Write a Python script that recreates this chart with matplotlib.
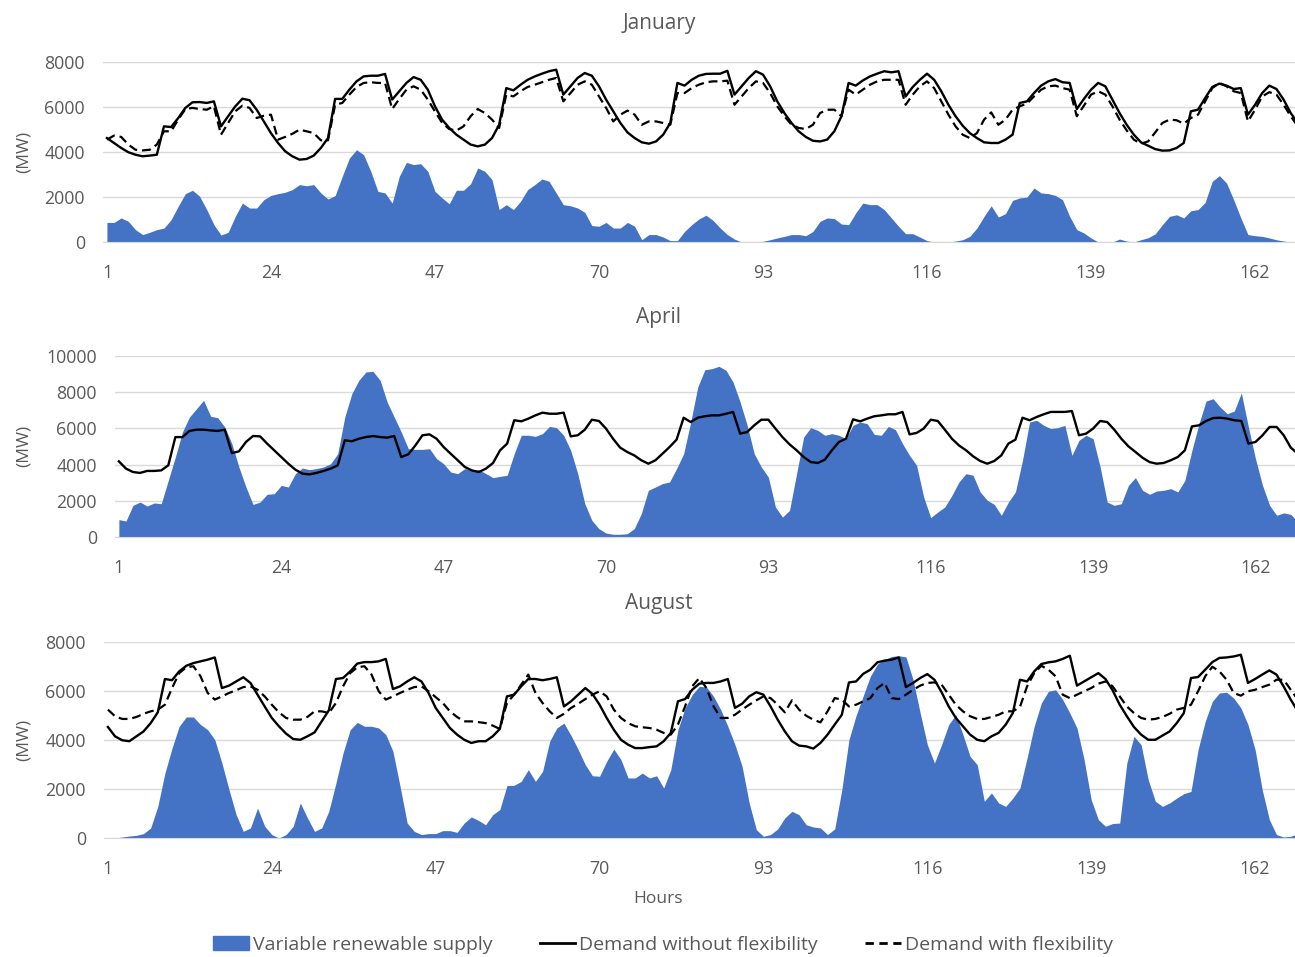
import matplotlib
matplotlib.use("Agg")
import matplotlib.pyplot as plt
import matplotlib.patches as mpatches
import matplotlib.lines as mlines
import numpy as np

plt.rcParams['font.family'] = ['Open Sans', 'DejaVu Sans']

hours = np.arange(1, 169)
tick_hours = [1, 24, 47, 70, 93, 116, 139, 162]

# January (MW)
jan_renew = [
    870, 870, 1070, 920, 550, 330, 430, 550, 620, 990,
    1590, 2150, 2300, 2030, 1440, 770, 310, 430, 1140, 1730,
    1510, 1510, 1880, 2070, 2150, 2210, 2330, 2550, 2500, 2550,
    2180, 1910, 2060, 2920, 3730, 4100, 3880, 3140, 2250, 2180,
    1730, 2920, 3540, 3440, 3480, 3140, 2250, 1960, 1700, 2300,
    2300, 2590, 3290, 3140, 2770, 1440, 1660, 1440, 1810, 2330,
    2550, 2800, 2700, 2180, 1660, 1610, 1510, 1320, 730, 700,
    870, 620, 620, 870, 700, 100, 330, 330, 220, 60,
    60, 470, 770, 1020, 1190, 960, 620, 330, 130, 0,
    0, 0, 30, 100, 180, 250, 330, 330, 280, 470,
    920, 1070, 1040, 800, 770, 1290, 1730, 1660, 1660, 1440,
    1070, 700, 370, 370, 220, 60, 0, 0, 0, 40,
    100, 250, 620, 1140, 1610, 1110, 1260, 1850, 1960, 1990,
    2400, 2180, 2150, 2070, 1880, 1140, 550, 400, 180, 0,
    0, 0, 130, 40, 0, 100, 190, 360, 770, 1140,
    1210, 1070, 1390, 1440, 1760, 2700, 2950, 2620, 1880, 1070,
    330, 280, 250, 180, 100, 40, 0, 0]
jan_no_flex = [
    4620, 4400, 4180, 3990, 3880, 3810, 3840, 3880, 5140, 5110,
    5510, 5960, 6210, 6220, 6180, 6250, 5140, 5590, 6030, 6370,
    6300, 5880, 5360, 4840, 4400, 4030, 3810, 3660, 3690, 3840,
    4180, 4620, 6360, 6360, 6770, 7140, 7360, 7390, 7390, 7470,
    6330, 6700, 7070, 7330, 7210, 6770, 6030, 5440, 5070, 4770,
    4550, 4330, 4250, 4330, 4620, 5210, 6840, 6740, 6990, 7210,
    7360, 7480, 7590, 7660, 6550, 6920, 7290, 7510, 7390, 6920,
    6330, 5810, 5290, 4870, 4620, 4430, 4370, 4470, 4770, 5290,
    7070, 6950, 7210, 7390, 7470, 7480, 7480, 7610, 6550, 6920,
    7290, 7590, 7440, 6920, 6250, 5730, 5290, 4920, 4670, 4500,
    4470, 4550, 4920, 5590, 7070, 6950, 7180, 7360, 7480, 7590,
    7540, 7590, 6470, 6890, 7210, 7480, 7210, 6700, 6100, 5590,
    5170, 4840, 4620, 4430, 4400, 4400, 4550, 4770, 6180, 6250,
    6620, 6950, 7140, 7240, 7100, 7070, 5910, 6360, 6770, 7070,
    6920, 6330, 5730, 5210, 4770, 4430, 4280, 4130, 4060, 4070,
    4180, 4400, 5810, 5880, 6400, 6890, 7040, 6950, 6800, 6840,
    5660, 6100, 6620, 6950, 6800, 6330, 5730, 5290]
jan_flex = [
    4550, 4730, 4670, 4330, 4100, 4070, 4100, 4330, 4920, 4920,
    5440, 5910, 5960, 5910, 5880, 6030, 4770, 5290, 5810, 6060,
    5960, 5510, 5610, 5660, 4550, 4670, 4810, 4990, 4920, 4840,
    4520, 4520, 6100, 6180, 6550, 6890, 7070, 7100, 7070, 7070,
    5910, 6360, 6770, 6920, 6770, 6330, 5800, 5300, 5020, 4950,
    5140, 5590, 5910, 5730, 5440, 5070, 6550, 6470, 6700, 6890,
    6990, 7100, 7210, 7290, 6250, 6620, 6990, 7140, 6990, 6470,
    5960, 5360, 5660, 5840, 5660, 5210, 5360, 5360, 5290, 5210,
    6620, 6620, 6840, 6990, 7100, 7140, 7140, 7170, 6100, 6470,
    6840, 7140, 7070, 6620, 6030, 5590, 5210, 5070, 5020, 5210,
    5730, 5880, 5880, 5590, 6770, 6550, 6770, 6990, 7140, 7210,
    7210, 7210, 6100, 6550, 6920, 7140, 6840, 6250, 5660, 5140,
    4770, 4620, 4840, 5440, 5760, 5210, 5440, 5880, 6030, 6150,
    6470, 6770, 6920, 6950, 6840, 6770, 5590, 6060, 6550, 6700,
    6550, 6030, 5440, 4960, 4550, 4370, 4470, 4870, 5290, 5440,
    5410, 5260, 5510, 5660, 6250, 6840, 7070, 6920, 6700, 6620,
    5360, 5880, 6470, 6660, 6550, 6100, 5590, 5140]

# April (MW)
apr_renew = [
    960, 880, 1750, 1930, 1710, 1880, 1840, 3130, 4420, 5800,
    6630, 7090, 7550, 6670, 6590, 6080, 5160, 3870, 2760, 1800,
    1930, 2360, 2390, 2850, 2760, 3500, 3810, 3720, 3780, 3870,
    4050, 4600, 6630, 7920, 8660, 9120, 9150, 8660, 7460, 6630,
    5800, 4880, 4840, 4840, 4880, 4330, 4050, 3590, 3500, 3780,
    3680, 3720, 3500, 3280, 3350, 3410, 4600, 5620, 5620, 5560,
    5710, 6110, 6040, 5620, 4790, 3500, 1840, 920, 460, 220,
    150, 150, 180, 460, 1290, 2580, 2760, 2950, 3040, 3780,
    4600, 6350, 8290, 9240, 9300, 9430, 9210, 8560, 7460, 6170,
    4600, 3870, 3310, 1660, 1100, 1470, 3500, 5520, 6040, 5890,
    5620, 5710, 5620, 5430, 6170, 6350, 6260, 5670, 5620, 6110,
    5930, 5160, 4510, 3960, 2210, 1070, 1380, 1660, 2300, 3040,
    3500, 3410, 2490, 2030, 1800, 1200, 1930, 2490, 4240, 6350,
    6450, 6170, 5990, 6040, 6170, 4510, 5340, 5620, 5430, 3870,
    1930, 1750, 1840, 2850, 3280, 2580, 2360, 2540, 2580, 2670,
    2490, 3130, 4790, 6260, 7510, 7640, 7180, 6810, 6960, 7960,
    6080, 4330, 2850, 1750, 1200, 1330, 1250, 830]
apr_no_flex = [
    4180, 3780, 3590, 3540, 3650, 3650, 3680, 3960, 5520, 5520,
    5860, 5930, 5930, 5890, 5860, 5930, 4640, 4730, 5250, 5580,
    5560, 5160, 4790, 4420, 4050, 3720, 3500, 3460, 3540, 3650,
    3780, 3960, 5340, 5290, 5430, 5520, 5580, 5520, 5490, 5580,
    4420, 4570, 5060, 5620, 5670, 5430, 4970, 4600, 4240, 3870,
    3680, 3590, 3780, 4090, 4790, 5160, 6450, 6390, 6540, 6720,
    6870, 6810, 6810, 6870, 5560, 5620, 5930, 6480, 6410, 5990,
    5430, 4940, 4700, 4510, 4240, 4050, 4240, 4600, 4970, 5380,
    6590, 6350, 6590, 6670, 6720, 6720, 6810, 6910, 5710, 5800,
    6170, 6480, 6480, 5990, 5520, 5120, 4790, 4420, 4140, 4090,
    4270, 4790, 5250, 5430, 6500, 6390, 6540, 6670, 6720, 6780,
    6780, 6910, 5670, 5750, 5990, 6480, 6410, 5930, 5430, 5060,
    4790, 4460, 4200, 4050, 4200, 4510, 5160, 5380, 6590, 6450,
    6630, 6780, 6910, 6910, 6910, 6960, 5620, 5710, 5990, 6410,
    6350, 5930, 5430, 5010, 4700, 4380, 4140, 4050, 4090, 4240,
    4420, 4790, 6110, 6170, 6410, 6570, 6590, 6540, 6450, 6410,
    5160, 5250, 5620, 6080, 6080, 5620, 4940, 4600]

# August (MW)
aug_renew = [
    0, 0, 40, 80, 110, 180, 410, 1290, 2650, 3670,
    4560, 4940, 4940, 4630, 4420, 4010, 3060, 1970, 950, 270,
    410, 1220, 480, 140, 0, 140, 480, 1430, 820, 270,
    410, 1090, 2240, 3470, 4420, 4720, 4560, 4560, 4490, 4220,
    3540, 2110, 610, 270, 140, 180, 180, 300, 300, 230,
    610, 860, 720, 540, 950, 1160, 2140, 2150, 2310, 2790,
    2310, 2720, 3950, 4490, 4690, 4180, 3610, 2990, 2540, 2520,
    3130, 3630, 3200, 2450, 2450, 2650, 2450, 2540, 2040, 2790,
    4420, 5310, 5850, 6190, 6160, 5780, 5240, 4560, 3810, 2930,
    1430, 340, 70, 140, 370, 820, 1090, 950, 540, 450,
    410, 140, 370, 1970, 4010, 5000, 5800, 6600, 7100, 7280,
    7410, 7440, 7390, 6460, 5100, 3810, 3060, 3810, 4630, 5030,
    4220, 3330, 2990, 1500, 1840, 1430, 1290, 1630, 2040, 3270,
    4560, 5510, 5990, 6050, 5650, 5100, 4490, 3200, 1560, 750,
    480, 590, 610, 3060, 4150, 3810, 2380, 1500, 1290, 1430,
    1630, 1810, 1900, 3610, 4760, 5580, 5920, 5950, 5710, 5310,
    4630, 3610, 1970, 750, 140, 40, 70, 180]
aug_no_flex = [
    4530, 4150, 3990, 3950, 4150, 4350, 4690, 5130, 6490, 6440,
    6800, 7030, 7140, 7210, 7280, 7370, 6120, 6220, 6390, 6560,
    6330, 5850, 5370, 4900, 4560, 4260, 4040, 4010, 4150, 4310,
    4760, 5210, 6490, 6530, 6800, 7120, 7180, 7180, 7210, 7310,
    6080, 6190, 6390, 6560, 6390, 5920, 5310, 4900, 4490, 4220,
    4010, 3880, 3950, 3950, 4150, 4450, 5780, 5850, 6190, 6490,
    6490, 6440, 6490, 6560, 5370, 5580, 5850, 6120, 5880, 5440,
    4900, 4420, 4010, 3810, 3670, 3670, 3710, 3740, 3950, 4290,
    5580, 5670, 6050, 6300, 6330, 6330, 6390, 6490, 5310, 5480,
    5780, 5950, 5850, 5370, 4830, 4350, 3950, 3770, 3740, 3650,
    3880, 4220, 4630, 5030, 6350, 6390, 6700, 6870, 7170, 7240,
    7280, 7370, 6160, 6330, 6530, 6690, 6460, 5950, 5370, 4900,
    4560, 4220, 4010, 3950, 4150, 4290, 4630, 5100, 6460, 6390,
    6800, 7100, 7170, 7210, 7310, 7440, 6220, 6390, 6560, 6730,
    6490, 6030, 5440, 4970, 4530, 4220, 4010, 4010, 4180, 4350,
    4690, 5100, 6530, 6570, 6870, 7180, 7350, 7370, 7410, 7480,
    6330, 6490, 6670, 6840, 6670, 6190, 5650, 5170]
aug_flex = [
    5240, 4970, 4860, 4860, 4940, 5070, 5170, 5240, 5440, 6120,
    6730, 6970, 7010, 6600, 5920, 5650, 5780, 5920, 6030, 6160,
    6190, 6050, 5780, 5440, 5130, 4900, 4830, 4830, 4940, 5170,
    5170, 5100, 5510, 6190, 6730, 6970, 7010, 6670, 5990, 5650,
    5780, 5920, 6050, 6160, 6190, 5990, 5750, 5510, 5170, 4940,
    4760, 4760, 4730, 4690, 4590, 4450, 5510, 5850, 6260, 6670,
    5920, 5510, 5170, 4900, 5070, 5310, 5480, 5670, 5850, 5990,
    5780, 5240, 4900, 4690, 4560, 4520, 4490, 4420, 4290, 4220,
    4630, 5370, 6190, 6530, 6120, 5370, 4900, 4900, 5030, 5240,
    5440, 5620, 5780, 5710, 5440, 5130, 5620, 5240, 4990, 4830,
    4720, 5170, 5710, 5650, 5370, 5440, 5580, 5710, 6120, 6330,
    5710, 5670, 5850, 6050, 6220, 6330, 6350, 6260, 5850, 5440,
    5170, 4970, 4860, 4860, 4940, 5030, 5170, 5170, 5350, 6190,
    6730, 7030, 6870, 6600, 5850, 5710, 5850, 5990, 6120, 6300,
    6390, 6190, 5780, 5370, 5100, 4900, 4830, 4860, 4940, 5070,
    5240, 5310, 5440, 5990, 6600, 6990, 6800, 6460, 5920, 5810,
    5990, 6050, 6160, 6260, 6460, 6460, 6050, 5650]

BLUE = '#4472C4'
GREY = '#595959'
GRID = '#D9D9D9'
W, H = 1295, 957


def px_axes(fig, left, top, bottom):
    # pixel box -> figure fraction, right edge runs to the figure edge
    return fig.add_axes([left / W, 1 - bottom / H, (W - left) / W, (bottom - top) / H])


def panel(ax, renew, no_flex, flex, ymax, ystep):
    ax.fill_between(hours, 0, renew, color=BLUE, linewidth=0, zorder=2)
    ax.plot(hours, no_flex, color='black', lw=1.7, zorder=3)
    if flex is not None:
        ax.plot(hours, flex, color='black', lw=1.6, ls=(0, (4, 2.2)), zorder=4)
    ax.set_xlim(0.45, 167.6)
    ax.set_ylim(0, ymax)
    ax.set_yticks(np.arange(0, ymax + 1, ystep))
    ax.set_xticks(tick_hours)
    ax.grid(axis='y', color=GRID, lw=1.0, zorder=0)
    for s in ['top', 'right', 'left']:
        ax.spines[s].set_visible(False)
    ax.spines['bottom'].set_color(GRID)
    ax.tick_params(length=0, colors=GREY, labelsize=12.8)
    ax.tick_params(axis='x', pad=16)
    ax.tick_params(axis='y', pad=13)


fig = plt.figure(figsize=(W / 100, H / 100), dpi=100)

ax1 = px_axes(fig, 103, 62, 242)
panel(ax1, jan_renew, jan_no_flex, jan_flex, 8000, 2000)
ax2 = px_axes(fig, 115, 356, 537)
panel(ax2, apr_renew, apr_no_flex, None, 10000, 2000)
ax3 = px_axes(fig, 104, 642, 838)
panel(ax3, aug_renew, aug_no_flex, aug_flex, 8000, 2000)

for title, yc in [('January', 24), ('April', 318), ('August', 604)]:
    fig.text(659 / W, 1 - yc / H, title, ha='center', va='center', color=GREY, fontsize=15)

for yc in [152, 446, 740]:
    fig.text(24 / W, 1 - yc / H, '(MW)', rotation=90, ha='center', va='center',
             color=GREY, fontsize=12.5)
fig.text(658 / W, 1 - 899 / H, 'Hours', ha='center', va='center', color=GREY, fontsize=12.5)

handles = [mpatches.Patch(color=BLUE),
           mlines.Line2D([], [], color='black', lw=2),
           mlines.Line2D([], [], color='black', lw=2, ls=(0, (3, 2)))]
labels = ['Variable renewable supply', 'Demand without flexibility', 'Demand with flexibility']
leg = fig.legend(handles, labels, loc='center', bbox_to_anchor=(663 / W, 1 - 945 / H),
                 ncol=3, frameon=False, fontsize=14, handlelength=1.85, handletextpad=0.2,
                 columnspacing=2.4)
for t in leg.get_texts():
    t.set_color(GREY)

fig.savefig('out.png', dpi=100)
